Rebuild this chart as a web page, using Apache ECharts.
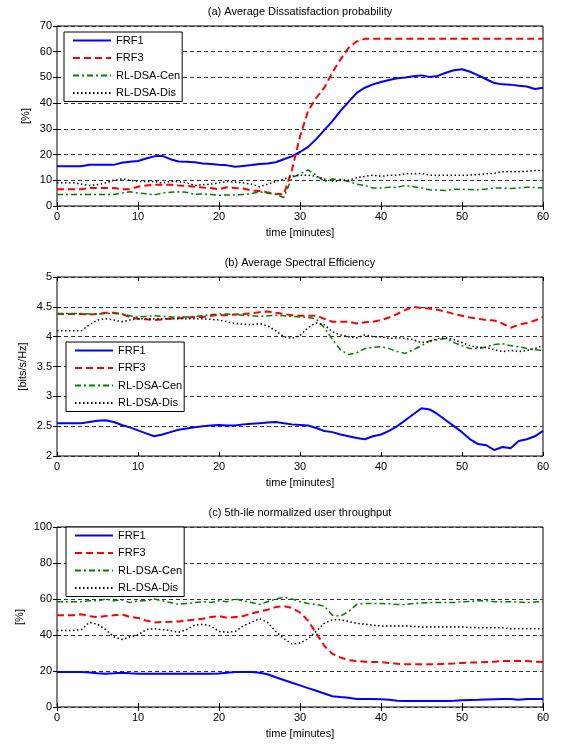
<!DOCTYPE html>
<html>
<head>
<meta charset="utf-8">
<title>Dissatisfaction / spectral efficiency / throughput</title>
<script src="https://cdn.jsdelivr.net/npm/echarts@6/dist/echarts.min.js"></script>
<style>
html, body { margin: 0; padding: 0; background: #fff; }
#main { width: 564px; height: 746px; }
</style>
</head>
<body>
<div id="main"></div>
<script>
// ---------------- data ----------------
var minutes = [0,1,2,3,4,5,6,7,8,9,10,11,12,13,14,15,16,17,18,19,20,21,22,23,24,25,26,27,28,29,30,
	31,32,33,34,35,36,37,38,39,40,41,42,43,44,45,46,47,48,49,50,51,52,53,54,55,56,57,58,59,60];
var seriesNames = ['FRF1', 'FRF3', 'RL-DSA-Cen', 'RL-DSA-Dis'];

// (a) average dissatisfaction probability [%]
var dissFrf1 = [15.5,15.5,15.5,15.5,16,16,16,16,16.8,17.2,17.5,18.5,19.3,19.5,18.2,17.3,17.2,17,16.5,16.3,16,
	15.8,15.3,15.6,15.9,16.3,16.5,17,18.2,19.3,21,23,26,29.5,33,37,40.5,44,46,47.3,48.2,
	49,49.7,50,50.5,50.8,50.2,50.6,51.8,52.8,53.2,52.2,50.8,49.3,47.8,47.3,47.2,46.8,46.5,45.5,46];
var dissFrf3 = [6.5,6.5,6.5,6.5,7,7,7,7,6.5,6.5,7.5,8,8.3,8.3,8.3,8,7.8,7.5,7.2,7,6.5,
	7.3,7,6.8,6,5.8,5.3,4.8,4.5,14,27,37,42,46,52,57,61.5,64,65,65,65,
	65,65,65,65,65,65,65,65,65,65,65,65,65,65,65,65,65,65,65,65];
var dissCen = [4.5,4.5,4.5,4.5,4.5,4.5,4.5,4.5,5,5.5,5,4.8,4.3,5,5.3,5.5,5.3,4.5,4.7,4.5,4.2,
	4.3,4.3,4.5,4.8,5.5,5,4.5,3.3,11,12.5,14,12,9.5,10.5,10.3,9.5,8.5,8,7,7,
	7.3,7.3,8,7.5,7,6.3,6.2,6,6.5,6.5,6.4,6.3,6.6,7,7,6.8,7,7.3,7.2,7];
var dissDis = [9,9,9,8.5,8,8.3,9,10,10.5,10,9.5,9.5,9.5,9,9.5,9.5,9,8,8.3,8.5,9,
	9.5,9.3,9,8.5,7.5,8.5,9.5,10.5,11.5,12,12,11.5,10.5,9.5,10,10,11,11.5,12,11.5,
	12,12,12.5,12.5,12.7,12,12,12,12,12,12,12.2,12.5,12.7,13.3,13.3,13.3,13.5,13.8,13.8];

// (b) average spectral efficiency [bits/s/Hz]
var seFrf1 = [2.55,2.55,2.55,2.55,2.57,2.59,2.6,2.57,2.52,2.48,2.43,2.38,2.33,2.36,2.4,2.44,2.46,2.48,2.5,2.51,2.52,
	2.51,2.51,2.53,2.54,2.55,2.56,2.57,2.55,2.53,2.52,2.51,2.47,2.42,2.4,2.36,2.33,2.3,2.28,2.33,2.36,
	2.42,2.5,2.6,2.7,2.8,2.78,2.7,2.6,2.5,2.4,2.28,2.2,2.18,2.1,2.15,2.13,2.25,2.28,2.33,2.42];
var seFrf3 = [4.38,4.38,4.38,4.38,4.37,4.38,4.4,4.4,4.38,4.33,4.3,4.29,4.28,4.29,4.3,4.31,4.32,4.33,4.33,4.35,4.36,
	4.36,4.37,4.38,4.39,4.41,4.42,4.4,4.38,4.36,4.35,4.35,4.35,4.3,4.25,4.25,4.25,4.22,4.24,4.25,4.28,
	4.32,4.38,4.45,4.5,4.48,4.47,4.45,4.42,4.38,4.35,4.32,4.3,4.28,4.27,4.22,4.15,4.2,4.23,4.27,4.33];
var seCen = [4.39,4.39,4.39,4.39,4.38,4.38,4.39,4.39,4.38,4.35,4.33,4.34,4.35,4.34,4.33,4.33,4.33,4.34,4.35,4.37,4.38,
	4.38,4.37,4.36,4.35,4.34,4.35,4.36,4.35,4.34,4.33,4.32,4.3,4.15,3.95,3.78,3.7,3.73,3.8,3.82,3.83,
	3.8,3.75,3.72,3.78,3.85,3.93,3.95,3.97,3.9,3.85,3.8,3.8,3.83,3.87,3.88,3.85,3.83,3.8,3.78,3.77];
var seDis = [4.1,4.1,4.1,4.1,4.2,4.28,4.3,4.28,4.25,4.28,4.3,4.3,4.3,4.3,4.3,4.3,4.3,4.3,4.3,4.29,4.28,
	4.25,4.22,4.21,4.2,4.22,4.18,4.1,4,3.97,4.02,4.15,4.23,4.2,4.08,4.03,4,3.98,4.03,4,4,
	3.97,3.98,3.97,3.95,3.9,3.92,3.97,3.98,3.95,3.9,3.85,3.82,3.82,3.78,3.75,3.77,3.75,3.77,3.8,3.85];

// (c) 5th-ile normalized user throughput [%]
var tputFrf1 = [19.5,19.5,19.5,19.5,19.2,18.8,18.5,18.7,19,18.7,18.5,18.5,18.5,18.5,18.5,18.5,18.5,18.5,18.5,18.5,18.6,
	19,19.5,19.5,19.5,19,18.2,16.5,15,13.5,12,10.5,9,7.5,6,5.5,5.2,4.5,4.5,4.5,4.3,
	4,3.5,3.4,3.4,3.4,3.4,3.4,3.4,3.5,3.8,3.9,4,4.2,4.3,4.4,4.5,4,4.5,4.5,4.5];
var tputFrf3 = [51,51,51,51.5,50.5,50,50.5,51,51.5,50,49.5,48,47,47.2,47.3,47.5,48,48.5,49,50,50.5,
	49.5,50,50.5,52,53,54,55.5,56,55,52.5,48,41,34,29.5,27.5,26,25.5,25.2,25,25,
	24.5,24,23.8,23.8,23.8,23.8,23.8,24,24.2,24.5,24.7,24.8,25,25.2,25.5,25.5,25.5,25.5,25.2,25];
var tputCen = [58.5,58.5,58.5,58.5,59,59,60,59,59.5,58,59,59,60,59,58,57,57.5,58,58.5,58,59,
	58.5,60,59,58,57,58.5,60,61,60,58.5,57.5,57,56,51,50.5,53,57,57.5,57.5,57.5,
	57.3,57,57,57.5,57.8,58,58,58,58,58.5,58.7,59,59,58.5,58.5,58.5,58.3,58,58.3,58.5];
var tputDis = [42.5,42.5,42.5,43,47,46,43,39,37.5,39,40,43,43.5,43,42.5,41.5,43,45.5,46,45,42,
	41.5,42,45,47,49,47,42,38,35,35.5,38,42,46.5,48.5,48.5,47.5,46.5,46,45.5,45,
	45,45,45,44.8,44.5,44.5,44.5,44.5,44.5,44.5,44.2,44,44,44,44,43.5,43.5,43.5,43.5,43.5];

// ---------------- chart ----------------
var FONT = 'Liberation Sans';
var myChart = echarts.init(document.getElementById('main'));

// line look of each curve (MATLAB-like)
var lineLooks = [
	{ color: '#0000ff', width: 2, type: 'solid' },
	{ color: '#ff0000', width: 2, type: [7, 4] },
	{ color: '#008000', width: 1.5, type: [6, 3, 2, 3] },
	{ color: '#000000', width: 1.5, type: [1.5, 2.5] }
];

var panels = [
	{ title: '(a) Average Dissatisfaction probability', yName: '[%]', min: 0, max: 70, interval: 10,
		top: 26, height: 180, nameGap: 26, legendLeft: 64, legendTop: 32,
		values: [dissFrf1, dissFrf3, dissCen, dissDis] },
	{ title: '(b) Average Spectral Efficiency', yName: '[bits/s/Hz]', min: 2, max: 5, interval: 0.5,
		top: 277, height: 179, nameGap: 29, legendLeft: 66, legendTop: 342,
		values: [seFrf1, seFrf3, seCen, seDis] },
	{ title: '(c) 5th-ile normalized user throughput', yName: '[%]', min: 0, max: 100, interval: 20,
		top: 527, height: 180, nameGap: 32, legendLeft: 66, legendTop: 527,
		values: [tputFrf1, tputFrf3, tputCen, tputDis] }
];

var option = {
	animation: false,
	backgroundColor: '#fff',
	textStyle: { fontFamily: FONT },
	title: [], grid: [], xAxis: [], yAxis: [], legend: [], series: []
};

var tickStyle = { show: true, inside: true, length: 4, lineStyle: { color: '#000', width: 1 } };

panels.forEach(function (p, i) {
	option.title.push({
		text: p.title, left: 300, top: p.top - 20, textAlign: 'center', padding: 0,
		textStyle: { fontFamily: FONT, fontSize: 11, fontWeight: 'normal', color: '#000' }
	});
	option.grid.push({
		left: 57, right: 21, top: p.top, height: p.height,
		show: true, borderColor: '#000', borderWidth: 1, backgroundColor: '#fff'
	});
	// bottom x axis (labels) + top x axis (ticks only)
	option.xAxis.push({
		type: 'value', gridIndex: i, min: 0, max: 60, interval: 10, position: 'bottom',
		name: 'time [minutes]', nameLocation: 'middle', nameGap: 21,
		nameTextStyle: { fontFamily: FONT, fontSize: 11, color: '#000' },
		axisLine: { show: false }, axisTick: tickStyle, splitLine: { show: false },
		axisLabel: { fontFamily: FONT, fontSize: 11, color: '#000', margin: 5 }
	});
	option.xAxis.push({
		type: 'value', gridIndex: i, min: 0, max: 60, interval: 10, position: 'top',
		axisLine: { show: false }, axisTick: tickStyle, splitLine: { show: false },
		axisLabel: { show: false }
	});
	// left y axis (labels, dashed grid) + right y axis (ticks only)
	option.yAxis.push({
		type: 'value', gridIndex: i, min: p.min, max: p.max, interval: p.interval, position: 'left',
		name: p.yName, nameLocation: 'middle', nameGap: p.nameGap, nameMoveOverlap: false,
		nameTextStyle: { fontFamily: FONT, fontSize: 11, color: '#000' },
		axisLine: { show: false }, axisTick: tickStyle,
		splitLine: { show: true, lineStyle: { color: '#333', width: 1, type: [4, 3] } },
		axisLabel: { fontFamily: FONT, fontSize: 11, color: '#000', margin: 5 }
	});
	option.yAxis.push({
		type: 'value', gridIndex: i, min: p.min, max: p.max, interval: p.interval, position: 'right',
		axisLine: { show: false }, axisTick: tickStyle, splitLine: { show: false },
		axisLabel: { show: false }
	});
	option.legend.push({
		orient: 'vertical', left: p.legendLeft, top: p.legendTop,
		data: seriesNames, itemWidth: 38, itemHeight: 12, itemGap: 6.5,
		padding: [3, 2, 3, 8], backgroundColor: '#fff', borderColor: '#000', borderWidth: 1,
		itemStyle: { opacity: 0 },	// hide the round marker, keep only the line sample
		textStyle: { fontFamily: FONT, fontSize: 11, color: '#000' },
		selectedMode: false
	});
	p.values.forEach(function (vals, k) {
		option.series.push({
			name: seriesNames[k], type: 'line',
			xAxisIndex: i * 2, yAxisIndex: i * 2,
			data: minutes.map(function (t, j) { return [t, vals[j]]; }),
			showSymbol: false, symbol: 'none',
			lineStyle: lineLooks[k], itemStyle: { color: lineLooks[k].color },
			clip: true
		});
	});
});

myChart.setOption(option);
</script>
</body>
</html>
